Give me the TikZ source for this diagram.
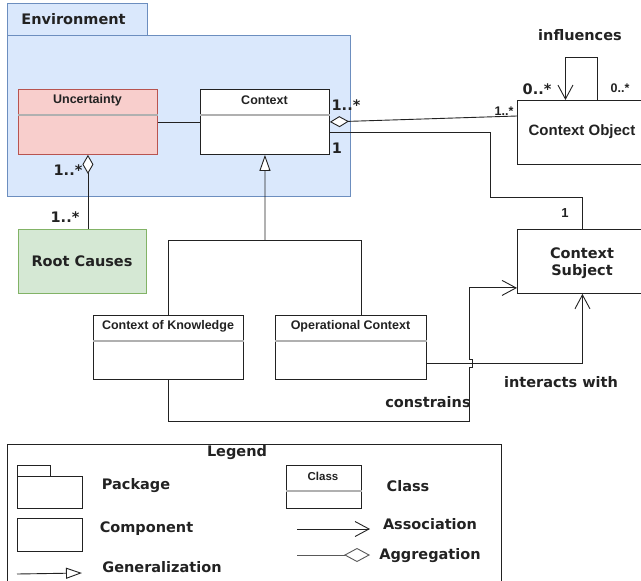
\documentclass[tikz,border=0pt]{standalone}
\usepackage{fontspec}
\usetikzlibrary{arrows.meta}
\newfontfamily\verd{DejaVu Sans}
\newfontfamily\arl{Liberation Sans}
\definecolor{pkgfill}{HTML}{DAE8FC}
\definecolor{pkgline}{HTML}{6C8EBF}
\definecolor{redfill}{HTML}{F8CECC}
\definecolor{redline}{HTML}{B85450}
\definecolor{grnfill}{HTML}{D5E8D4}
\definecolor{grnline}{HTML}{82B366}
\definecolor{ink}{HTML}{222222}
\definecolor{sepgray}{HTML}{B0B0B0}
\begin{document}
\begin{tikzpicture}[x=1pt,y=-1pt,
  box/.style={draw=ink,fill=white,line width=0.9pt,anchor=north west,inner sep=0pt,
    minimum width=#1},
  box/.default=100pt,
  pkgbox/.style={draw=pkgline,fill=pkgfill,line width=0.9pt},
  sepline/.style={draw=sepgray,line width=1.1pt},
  wire/.style={draw=ink,line width=0.9pt},
  lbl/.style={font=\verd\bfseries\fontsize{14.5}{17}\selectfont,text=ink,inner sep=0pt},
  ttl/.style={font=\arl\bfseries\fontsize{12.5}{14}\selectfont,text=ink,inner sep=0pt},
  small/.style={font=\arl\bfseries\fontsize{12.5}{14}\selectfont,text=ink,inner sep=0pt},
  barb/.style={-{Straight Barb[length=14pt,width=15pt,line width=0.9pt]}},
  hollowdia/.style={{Diamond[open,length=19pt,width=11pt,line width=0.9pt,fill=white]}-},
  gentri/.style={-{Triangle[open,length=16pt,width=11pt,line width=0.9pt,fill=white]}},
]
\useasboundingbox (0,0) rectangle (641,581);

% ---------- Environment package ----------
\path[pkgbox] (7,3) rectangle (147,35);
\path[pkgbox] (7,35) rectangle (350,196);
\node[lbl] (envname) at (73.5,19) {Environment};

% ---------- classes inside the package ----------
\node[box=139pt,minimum height=65pt,draw=redline,fill=redfill] (unc) at (18,89) {};
\draw[sepline] ([yshift=-26pt]unc.north west) -- ([yshift=-26pt]unc.north east);
\node[ttl] (unct) at (87.5,100) {Uncertainty};

\node[box=129pt,minimum height=65pt] (ctx) at (200,89) {};
\draw[sepline] ([yshift=-26pt]ctx.north west) -- ([yshift=-26pt]ctx.north east);
\node[ttl] (ctxt) at (264.5,100) {Context};

% ---------- other components ----------
\node[box=130pt,minimum height=64pt] (cobj) at (517,100) {};
\node[ttl,font=\arl\bfseries\fontsize{15}{17}\selectfont] (cobjt) at (582,132) {Context Object};

\node[box=130pt,minimum height=64pt] (subj) at (517,229) {};
\node[lbl,align=center] (subjt) at (582,263) {Context\\Subject};

\node[box=128pt,minimum height=64pt,draw=grnline,fill=grnfill] (root) at (18,229) {};
\node[lbl] (roott) at (82,261) {Root Causes};

\node[box=150pt,minimum height=64pt] (ckn) at (93,315) {};
\draw[sepline] ([yshift=-26pt]ckn.north west) -- ([yshift=-26pt]ckn.north east);
\node[ttl] (cknt) at (168,326) {Context of Knowledge};

\node[box=151pt,minimum height=64pt] (opc) at (275,315) {};
\draw[sepline] ([yshift=-26pt]opc.north west) -- ([yshift=-26pt]opc.north east);
\node[ttl] (opct) at (350.5,326) {Operational Context};

% ---------- connectors ----------
\draw[wire] (unc.east) -- (ctx.west);
\draw[wire,hollowdia] (ctx.east) -- ([yshift=-16pt]cobj.north west);
\coordinate (bendA) at (490,197);
\draw[wire] ([yshift=-10.5pt]ctx.east) -| (bendA) -| (subj.north);
\draw[wire,hollowdia] (unc.south) -- (unc.south |- root.north);

% self association on Context Object
\draw[wire,barb] ([xshift=15pt]cobj.north) -- ++(0,-43) -| ([xshift=-17pt]cobj.north);

% generalization tree
\coordinate (genj) at (265,240);
\draw[wire] (ckn.north) |- (genj);
\draw[wire] ([xshift=10.5pt]opc.north) |- (genj);
\draw[wire,gentri] (genj) -- (ctx.south);

% constrains (with a hop over the other line)
\coordinate (cbend) at (469,421);
\draw[wire,barb] (ckn.south) |- (cbend) -- ++(0,-54) -- ++(3,0) -- ++(0,-8) -- ++(-3,0)
  |- ([yshift=6pt]subj.south west);
% interacts with
\draw[wire,barb] ([yshift=-48pt]opc.north east) -| (subj.south);

% ---------- multiplicities and association names ----------
\node[lbl] (m1) at (346,105) {1..*};
\node[lbl] (m2) at (337,148) {1};
\node[small] (m3) at (504,111) {1..*};
\node[lbl] (m4) at (537,89) {0..*};
\node[small] (m5) at (620,88) {0..*};
\node[lbl] (inf) at (580,35) {influences};
\node[ttl,font=\arl\bfseries\fontsize{13}{14}\selectfont] (m6) at (565,213) {1};
\node[lbl] (m7) at (68,170) {1..*};
\node[lbl] (m8) at (65,217) {1..*};
\node[lbl] (cons) at (428,402) {constrains};
\node[lbl] (inter) at (561,382) {interacts with};

% ---------- legend ----------
\draw[wire] (7,600) |- (501,444) -- (501,600);
\node[lbl] (legt) at (237,453) {Legend};

\draw[wire] (17,465) rectangle (50,476);
\node[box=65pt,minimum height=32pt] (lpkg) at (17,476) {};
\node[lbl] (lpkgt) at (136,486) {Package};

\node[box=65pt,minimum height=33pt] (lcmp) at (17,518) {};
\node[lbl] (lcmpt) at (146.5,529) {Component};

\coordinate (lg1) at (17,574);
\coordinate (lg2) at (82,573);
\draw[wire,gentri] (lg1) -- (lg2);
\node[lbl] (lgent) at (162,567) {Generalization};

\node[box=75pt,minimum height=43pt] (lcls) at (286,465) {};
\draw[sepline] ([yshift=-26pt]lcls.north west) -- ([yshift=-26pt]lcls.north east);
\node[ttl,font=\arl\bfseries\fontsize{11.5}{13}\selectfont] (lclsin) at (323,476) {Class};
\node[lbl] (lclst) at (408,486) {Class};

\coordinate (la1) at (297,529);
\coordinate (la2) at (370,529);
\draw[wire,barb] (la1) -- (la2);
\node[lbl] (lasst) at (430,524) {Association};

\coordinate (lag1) at (297,555);
\coordinate (lag2) at (370,555);
\draw[wire,draw=ink!75,{Diamond[open,length=26pt,width=14pt,line width=0.9pt,fill=white]}-] (lag2) -- (lag1);
\node[lbl] (laggt) at (430,556) {Aggregation};
\end{tikzpicture}
\end{document}
